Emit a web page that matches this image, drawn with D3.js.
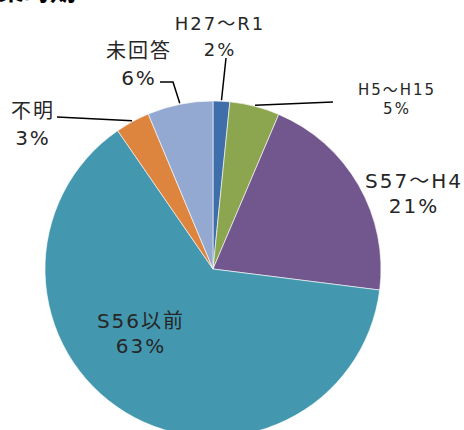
<!DOCTYPE html>
<html>
<head>
<meta charset="utf-8">
<script src="https://cdn.jsdelivr.net/npm/d3@7/dist/d3.min.js"></script>
<style>
  body { margin: 0; background: #fff; }
  svg { display: block; }
  text { font-family: "DejaVu Sans", "Noto Sans CJK JP", sans-serif; fill: #262626; }
</style>
</head>
<body>
<div id="chart"></div>
<script>
// Pie chart - construction period

var categories = ['H27～R1', 'H5～H15', 'S57～H4', 'S56以前', '不明', '未回答'];
var values = [1.6, 4.8, 20.6, 63.4, 3.3, 6.3];
var colors = ['#3f6fab', '#8ca650', '#72578f', '#4398b0', '#dd843f', '#93a9d2'];

var width = 464, height = 430;
var cx = 213, cy = 269, radius = 168;

// label layout: x, baseline of first line, font size, leader points (first is near text)
var labelLayout = [
    { x: 220, y: 30, size: 18, gap: 26, leader: [[226, 58]] },
    { x: 397, y: 95, size: 15, gap: 19, leader: [[333, 102]] },
    { x: 414, y: 188, size: 20, gap: 25, leader: null },
    { x: 141, y: 328, size: 20, gap: 25, leader: null },
    { x: 33, y: 118, size: 20, gap: 27, leader: [[57, 117]] },
    { x: 139, y: 58, size: 20, gap: 27, leader: [[160, 82], [173, 82]] }
];

var svg = d3.select('#chart').append('svg')
    .attr('width', width)
    .attr('height', height);

// cut-off title
svg.append('text')
    .attr('x', 76)
    .attr('y', 0)
    .attr('text-anchor', 'end')
    .style('font-family', '"Noto Sans CJK JP", sans-serif')
    .style('font-size', '26px')
    .style('font-weight', 'bold')
    .style('fill', '#000')
    .text('建築時期');

var total = d3.sum(values);

var pie = d3.pie()
    .sort(null)
    .value(function(d) { return d; });

var arc = d3.arc()
    .innerRadius(0)
    .outerRadius(radius);

var edgeArc = d3.arc()
    .innerRadius(radius + 1)
    .outerRadius(radius + 1);

var arcs = pie(values);

var g = svg.append('g')
    .attr('transform', 'translate(' + cx + ',' + cy + ')');

g.selectAll('path')
    .data(arcs)
    .enter().append('path')
        .attr('d', arc)
        .style('fill', function(d, i) { return colors[i]; })
        .style('stroke', '#fff')
        .style('stroke-width', 0.6);

// leader lines
arcs.forEach(function(d, i) {
    var lay = labelLayout[i];
    if (!lay.leader) return;
    var p = edgeArc.centroid(d);
    var pts = lay.leader.map(function(q) { return [q[0] - cx, q[1] - cy]; });
    pts.push(p);
    g.append('path')
        .attr('d', d3.line()(pts))
        .style('fill', 'none')
        .style('stroke', '#000')
        .style('stroke-width', 1.5);
});

// labels
var labels = svg.selectAll('.lbl')
    .data(arcs)
    .enter().append('text')
        .attr('class', 'lbl')
        .attr('text-anchor', 'middle')
        .style('font-size', function(d, i) { return labelLayout[i].size + 'px'; })
        .style('letter-spacing', '2px');

labels.append('tspan')
    .attr('x', function(d, i) { return labelLayout[i].x; })
    .attr('y', function(d, i) { return labelLayout[i].y; })
    .text(function(d, i) { return categories[i]; });

labels.append('tspan')
    .attr('x', function(d, i) { return labelLayout[i].x; })
    .attr('y', function(d, i) { return labelLayout[i].y + labelLayout[i].gap; })
    .text(function(d) { return Math.round(d.value / total * 100) + '%'; });
</script>
</body>
</html>
